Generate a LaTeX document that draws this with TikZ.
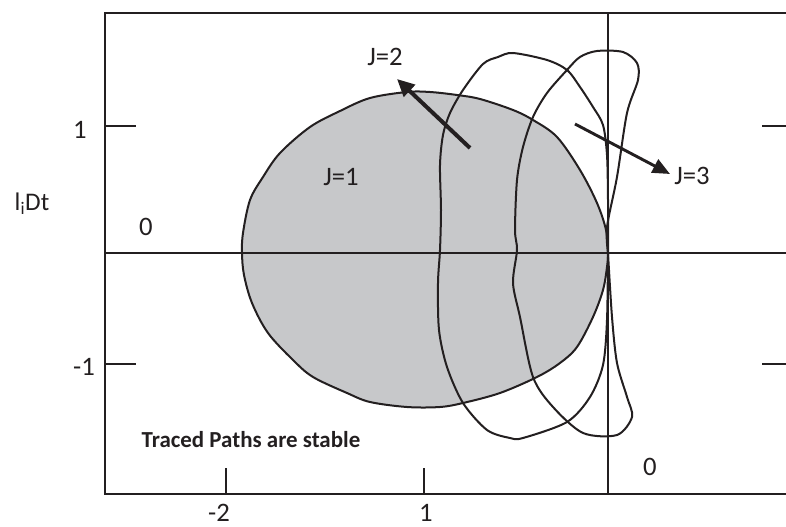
\documentclass[tikz,border=0pt]{standalone}
\usepackage{fontspec}
\setmainfont{Carlito}
\usetikzlibrary{arrows.meta}
\definecolor{regiongray}{RGB}{199,200,202}
\definecolor{ink}{RGB}{35,31,32}
\tikzset{
  frameline/.style={draw=ink, line width=2pt},
  axisline/.style={draw=ink, line width=1.5pt},
  tickline/.style={draw=ink, line width=1.6pt},
  pathline/.style={draw=ink, line width=1.5pt, line join=round},
  lbl/.style={font=\fontsize{20}{22}\selectfont, text=ink, inner sep=0pt},
  bigarrow/.style={draw=ink, line width=3pt, -{Triangle[length=13pt,width=12pt]}},
  midarrow/.style={draw=ink, line width=2.2pt, -{Triangle[length=13pt,width=11pt]}},
}
\begin{document}
\begin{tikzpicture}[x=0.75pt, y=-0.75pt]
\useasboundingbox (0,0) rectangle (786,527);
% shaded J=1 region
\path[fill=regiongray, draw=ink, line width=1.5pt, line join=round] plot[smooth cycle, tension=0.55] coordinates {
 (242,253) (243,233) (250,200) (263,177) (280,153) (310,127) (340,111) (370,98)
 (407,92) (430,92) (457,95) (480,99) (513,110) (533,120) (557,137) (580,170)
 (597,203) (606,230) (608,253) (607,267) (603,290) (593,317) (577,347) (560,363)
 (537,377) (500,393) (463,403) (440,407) (407,407) (370,402) (347,393) (313,377)
 (293,360) (268,333) (252,303) (244,275)};
% frame
\coordinate (TL) at (105,13);
\coordinate (TR) at (786,13);
\coordinate (BL) at (105,494);
\coordinate (BR) at (786,494);
\draw[frameline] (TR) -- (TL) -- (BL) -- (BR);
% axes
\coordinate (HL) at (105,253);
\coordinate (HR) at (786,253);
\coordinate (VT) at (608,13);
\coordinate (VB) at (608,494);
\draw[axisline] (HL) -- (HR);
\draw[axisline] (VT) -- (VB);
% ticks
\coordinate (t1a) at (105,126); \coordinate (t1b) at (136,126);
\coordinate (t2a) at (105,364); \coordinate (t2b) at (136,364);
\coordinate (t3a) at (762,126); \coordinate (t3b) at (786,126);
\coordinate (t4a) at (762,364); \coordinate (t4b) at (786,364);
\coordinate (t5a) at (226,468); \coordinate (t5b) at (226,494);
\coordinate (t6a) at (424,468); \coordinate (t6b) at (424,494);
\draw[tickline] (t1a) -- (t1b) (t2a) -- (t2b) (t3a) -- (t3b) (t4a) -- (t4b)
  (t5a) -- (t5b) (t6a) -- (t6b);
% J=2 contour
\draw[pathline] plot[smooth, tension=0.5] coordinates {
 (608,253) (608,200) (607,155) (603,125) (593,107) (580,87) (567,70) (547,60)
 (513,53) (498,57) (483,64) (463,90) (450,113) (443,135) (440,165) (441,210)
 (440,250) (438,283) (439,330) (447,367) (463,403) (487,430) (510,438) (523,438)
 (567,422) (590,397) (603,365) (607,320) (608,253)};
% J=3 contour
\draw[pathline] plot[smooth, tension=0.5] coordinates {
 (608,253) (607,227) (617,177) (627,113) (638,80) (637,63) (623,52) (597,51)
 (580,57) (567,70) (547,93) (533,117) (523,147) (517,180) (515,230) (517,250)
 (513,283) (520,317) (533,377) (553,407) (583,433) (617,435) (632,417) (627,397)
 (617,363) (612,317) (608,253)};
% arrows
\coordinate (a2s) at (470,148); \coordinate (a2e) at (397,79);
\coordinate (a3s) at (575,124); \coordinate (a3e) at (670,174);
\draw[bigarrow] (a2s) -- (a2e);
\draw[midarrow] (a3s) -- (a3e);
% labels
\node[lbl] (y1) at (80,130) {1};
\node[lbl] (ym1) at (84,367) {-1};
\node[lbl, font=\fontsize{19}{21}\selectfont] (ylab) at (32,204) {l\textsubscript{i}Dt};
\node[lbl] (zero1) at (146,227) {0};
\node[lbl] (zero2) at (650,467) {0};
\node[lbl] (xm2) at (219,513) {-2};
\node[lbl] (x1) at (426,513) {1};
\node[lbl] (j1) at (341,177) {J=1};
\node[lbl] (j2) at (385,57) {J=2};
\node[lbl] (j3) at (692,176) {J=3};
\node[lbl, font=\fontsize{17.2}{19}\bfseries] (note) at (251,440) {Traced Paths are stable};
\end{tikzpicture}
\end{document}
